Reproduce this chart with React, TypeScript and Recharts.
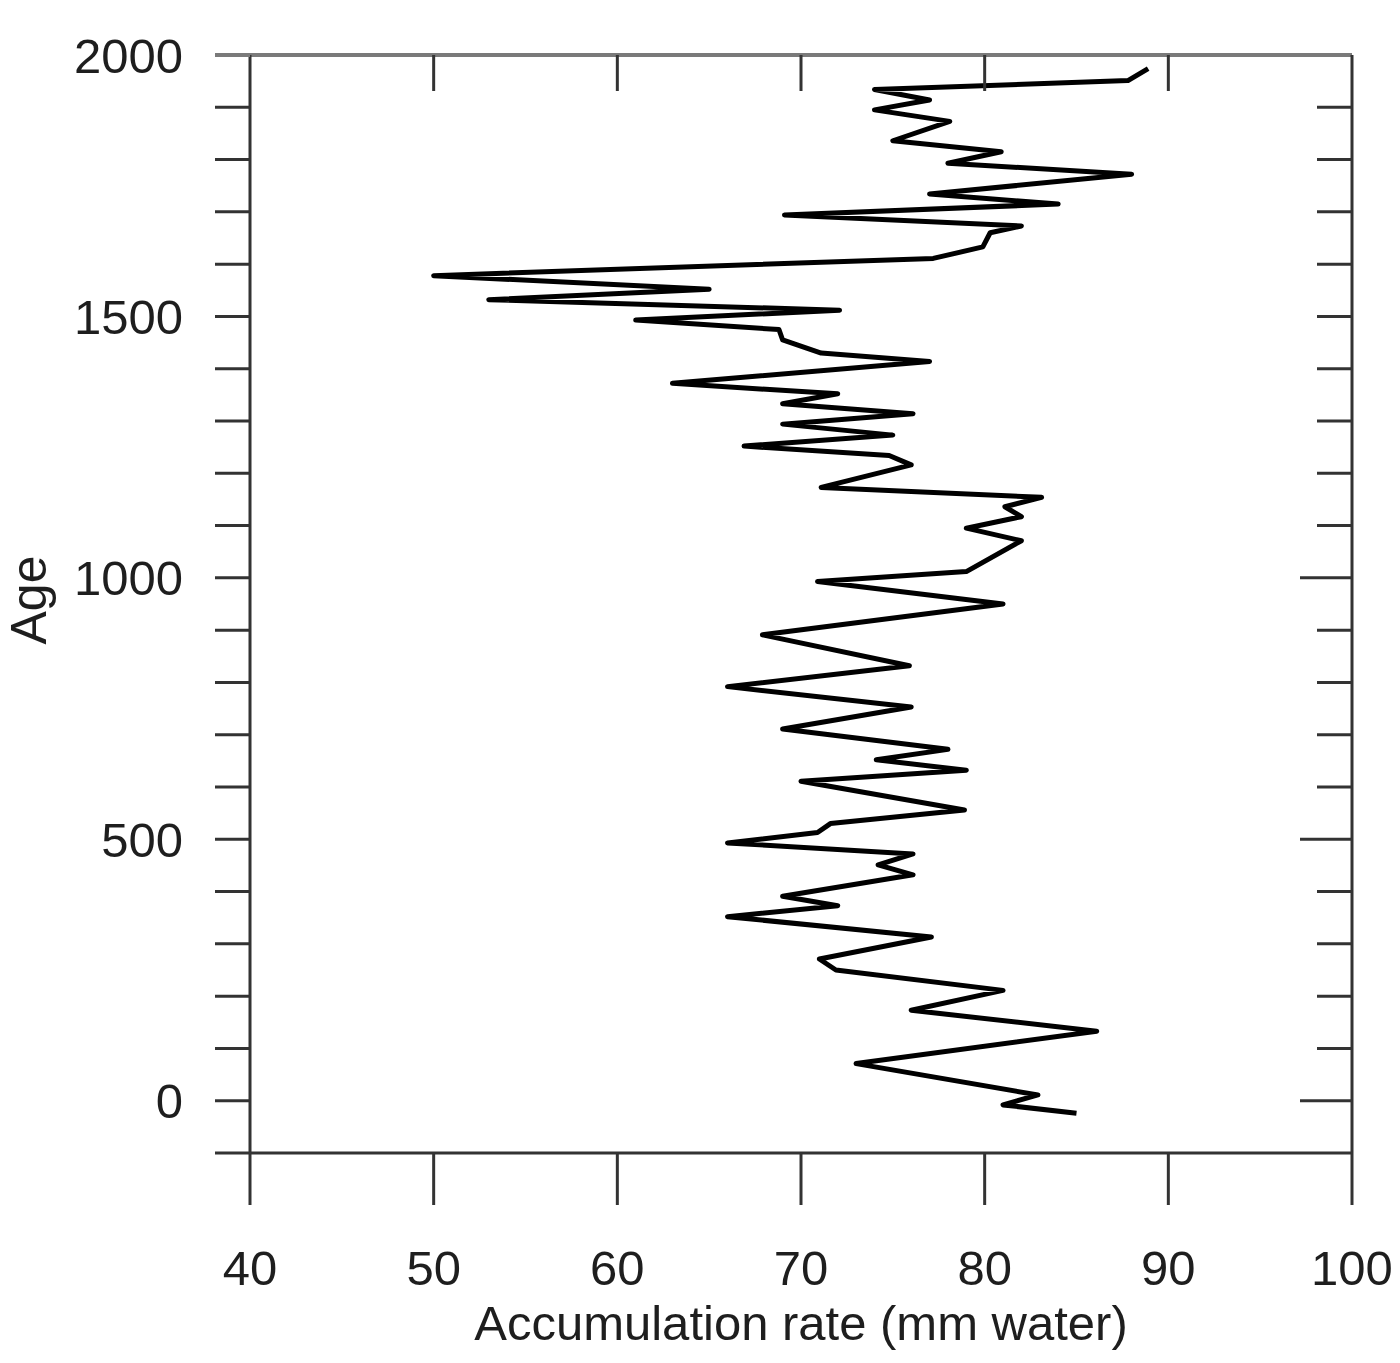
import React from 'react';
import { ScatterChart, Scatter, XAxis, YAxis } from 'recharts';

// accumulation record, read top (youngest) to bottom (oldest)
const ages = [
  1974, 1951, 1934, 1914, 1895, 1873, 1836, 1815, 1793, 1772, 1734, 1715, 1694, 1673, 1660, 1633, 1611,
  1578, 1552, 1532, 1512, 1493, 1475, 1455, 1430, 1414, 1372, 1352, 1333, 1314, 1294, 1273, 1252, 1234,
  1216, 1173, 1154, 1136, 1117, 1095, 1071, 1012, 993, 950, 891, 832, 792, 753, 711, 672, 652, 632, 611,
  556, 530, 513, 493, 472, 451, 432, 391, 373, 352, 313, 271, 250, 211, 173, 133, 71, 11, -8, -24,
];
const rates = [
  88.9, 87.8, 74.0, 77.0, 74.0, 78.1, 75.0, 80.9, 78.0, 88.0, 77.0, 84.0, 69.1, 82.0, 80.3, 79.9, 77.2,
  50.0, 65.0, 53.0, 72.1, 61.0, 68.8, 69.0, 71.1, 77.0, 63.0, 72.0, 69.0, 76.1, 69.0, 75.0, 66.9, 74.8,
  76.0, 71.1, 83.1, 81.1, 82.0, 79.0, 82.0, 79.0, 70.9, 81.0, 67.9, 75.9, 66.0, 76.0, 69.0, 78.0, 74.1, 79.0, 70.0,
  78.9, 71.6, 70.9, 66.0, 76.1, 74.2, 76.1, 69.0, 72.0, 66.0, 77.1, 71.0, 71.9, 81.0, 76.0, 86.1, 73.0, 82.9, 81.0, 85.0,
];

const ageTicks = [
  -100, 0, 100, 200, 300, 400, 500, 600, 700, 800, 900, 1000, 1100, 1200, 1300, 1400, 1500, 1600, 1700,
  1800, 1900, 2000,
];
const ageLabels = [0, 500, 1000, 1500, 2000];
const rateTicks = [40, 50, 60, 70, 80, 90, 100];

const points = ages.map((age, i) => ({ age, rate: rates[i] }));

const FONT = '"Liberation Sans", Arial, Helvetica, sans-serif';
const INK = '#1e1e1e';
const AXIS = '#333';
const TOP_AXIS = '#7a7a7a';

const LeftTick = (props: any) => {
  const { x, y, payload } = props;
  const v = payload.value;
  return (
    <g>
      <line x1={x - 35} x2={x} y1={y} y2={y} stroke={v === 2000 ? TOP_AXIS : AXIS} strokeWidth={v === 2000 ? 4 : 3} />
      {ageLabels.includes(v) && (
        <text x={x - 67} y={y} dy="0.36em" textAnchor="end" fontSize={49} fill={INK} fontFamily={FONT}>
          {v}
        </text>
      )}
    </g>
  );
};

const RightTick = (props: any) => {
  const { x, y, payload } = props;
  const v = payload.value;
  if (v === 2000 || v === -100) return <g />;
  const len = v === 0 || v === 500 || v === 1000 ? 52 : 35;
  return <line x1={x - len} x2={x} y1={y} y2={y} stroke={AXIS} strokeWidth={3} />;
};

const BottomTick = (props: any) => {
  const { x, y, payload } = props;
  return (
    <g>
      <line x1={x} x2={x} y1={y} y2={y + 52} stroke={AXIS} strokeWidth={3} />
      <text x={x} y={y + 132} textAnchor="middle" fontSize={49} fill={INK} fontFamily={FONT}>
        {payload.value}
      </text>
    </g>
  );
};

const TopTick = (props: any) => {
  const { x, y, payload } = props;
  if (payload.value === 40 || payload.value === 100) return <g />;
  return <line x1={x} x2={x} y1={y} y2={y + 36} stroke={AXIS} strokeWidth={3} />;
};

export default function App() {
  return (
    <div style={{ position: 'absolute', left: 0, top: 0, width: 1400, height: 1363, background: '#fff' }}>
      <ScatterChart width={1400} height={1363} margin={{ top: 54, right: 47, bottom: 0, left: 0 }}>
        <XAxis
          type="number"
          dataKey="rate"
          domain={[40, 100]}
          ticks={rateTicks}
          interval={0}
          height={210}
          tickSize={0}
          tickMargin={0}
          tickLine={false}
          axisLine={{ stroke: AXIS, strokeWidth: 3 }}
          tick={BottomTick}
          label={{
            content: (p: any) => {
              const vb = p.viewBox || { x: 250, width: 1102 };
              return (
                <text x={vb.x + vb.width / 2} y={1340} textAnchor="middle" fontSize={49} fill={INK} fontFamily={FONT}>
                  Accumulation rate (mm water)
                </text>
              );
            },
          }}
        />
        <XAxis
          xAxisId="top"
          orientation="top"
          type="number"
          dataKey="rate"
          domain={[40, 100]}
          ticks={rateTicks}
          interval={0}
          height={1}
          tickSize={0}
          tickMargin={0}
          tickLine={false}
          axisLine={{ stroke: TOP_AXIS, strokeWidth: 4 }}
          tick={TopTick}
        />
        <YAxis
          type="number"
          dataKey="age"
          domain={[-100, 2000]}
          ticks={ageTicks}
          interval={0}
          width={250}
          tickSize={0}
          tickMargin={0}
          tickLine={false}
          axisLine={{ stroke: AXIS, strokeWidth: 3 }}
          tick={LeftTick}
          label={{
            content: (p: any) => {
              const vb = p.viewBox || { y: 55, height: 1098 };
              const cy = vb.y + vb.height / 2 - 4;
              return (
                <text
                  x={46}
                  y={cy}
                  transform={`rotate(-90 46 ${cy})`}
                  textAnchor="middle"
                  fontSize={50}
                  fill={INK}
                  fontFamily={FONT}
                >
                  Age
                </text>
              );
            },
          }}
        />
        <YAxis
          yAxisId="right"
          orientation="right"
          type="number"
          dataKey="age"
          domain={[-100, 2000]}
          ticks={ageTicks}
          interval={0}
          width={1}
          tickSize={0}
          tickMargin={0}
          tickLine={false}
          axisLine={{ stroke: AXIS, strokeWidth: 3 }}
          tick={RightTick}
        />
        {/* invisible series so the top and right frame axes get scales */}
        <Scatter
          data={points}
          xAxisId="top"
          yAxisId="right"
          shape={() => <g />}
          legendType="none"
          isAnimationActive={false}
        />
        <Scatter
          data={points}
          line={{ stroke: '#000', strokeWidth: 5, strokeLinejoin: 'round', fill: 'none' }}
          shape={() => <g />}
          isAnimationActive={false}
        />
      </ScatterChart>
    </div>
  );
}
